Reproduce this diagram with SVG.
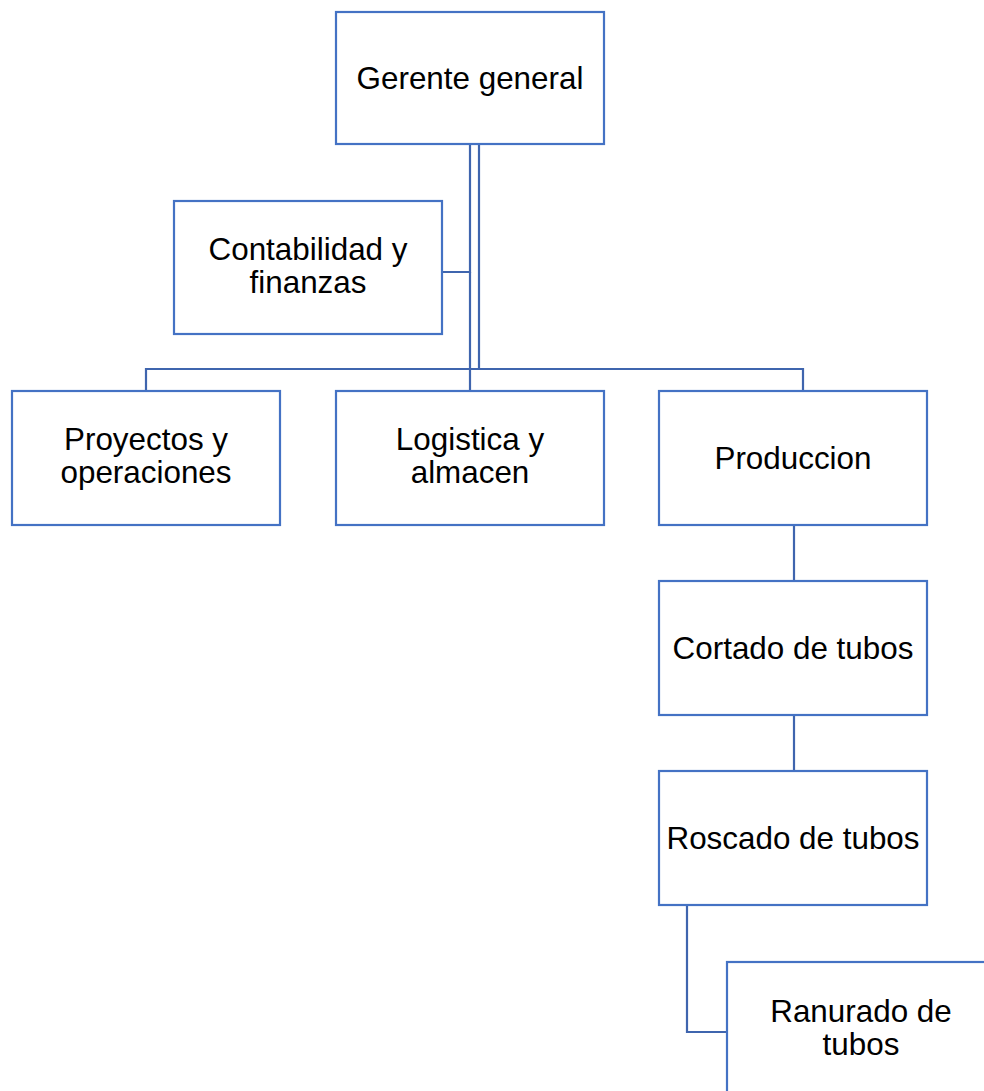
<svg xmlns="http://www.w3.org/2000/svg" width="984" height="1091" viewBox="0 0 984 1091">
<style>
.box{fill:#fff;stroke:#4472C4;stroke-width:2.2}
.t{font-family:"Liberation Sans",Arial,sans-serif;font-size:31.4px;fill:#000;text-anchor:middle}
.c{fill:none;stroke:#3F65AE;stroke-width:2.2}
</style>
<rect width="984" height="1091" fill="#fff"/>
<g id="connectors">
<path class="c" d="M470,144 V272 H442" stroke-width="3.4"/>
<path class="c" d="M470,272 V391"/>
<path class="c" d="M479,144 V369"/>
<path class="c" d="M146,391 V369 H803 V391"/>
<path class="c" d="M794,525 V581"/>
<path class="c" d="M794,712 V771"/>
<path class="c" d="M687,905 V1032 H727"/>
</g>
<g id="gerente"><rect class="box" x="336" y="12" width="268" height="132"/><text class="t" x="470" y="89">Gerente general</text></g>
<g id="contabilidad"><rect class="box" x="174" y="201" width="268" height="133"/><text class="t" x="308" y="260">Contabilidad y</text><text class="t" x="308" y="293">finanzas</text></g>
<g id="proyectos"><rect class="box" x="12" y="391" width="268" height="134"/><text class="t" x="146" y="450">Proyectos y</text><text class="t" x="146" y="483">operaciones</text></g>
<g id="logistica"><rect class="box" x="336" y="391" width="268" height="134"/><text class="t" x="470" y="450">Logistica y</text><text class="t" x="470" y="483">almacen</text></g>
<g id="produccion"><rect class="box" x="659" y="391" width="268" height="134"/><text class="t" x="793" y="469">Produccion</text></g>
<g id="cortado"><rect class="box" x="659" y="581" width="268" height="134"/><text class="t" x="793" y="659">Cortado de tubos</text></g>
<g id="roscado"><rect class="box" x="659" y="771" width="268" height="134"/><text class="t" x="793" y="849">Roscado de tubos</text></g>
<g id="ranurado"><rect class="box" x="727" y="962" width="268" height="134"/><text class="t" x="861" y="1022">Ranurado de</text><text class="t" x="861" y="1055">tubos</text></g>
</svg>
